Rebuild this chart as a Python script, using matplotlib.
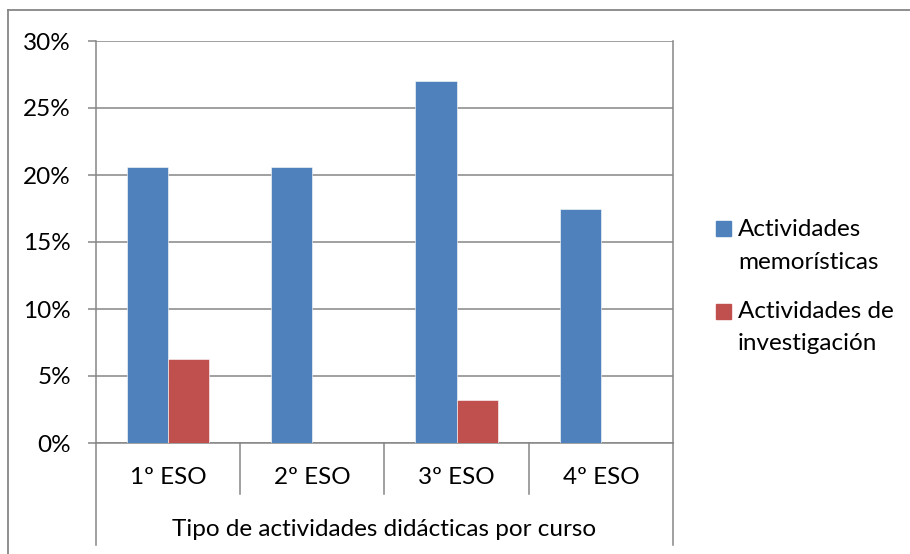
import matplotlib
matplotlib.use("Agg")
import matplotlib.pyplot as plt
from matplotlib.patches import Rectangle
from matplotlib.lines import Line2D
import numpy as np

categories = ["1º ESO", "2º ESO", "3º ESO", "4º ESO"]
series_names = ["Actividades\nmemorísticas", "Actividades de\ninvestigación"]
memoristicas = [20.6, 20.6, 27.0, 17.5]
investigacion = [6.3, 0.0, 3.2, 0.0]
yticks = [0, 5, 10, 15, 20, 25, 30]
ytick_labels = ["0%", "5%", "10%", "15%", "20%", "25%", "30%"]
xlabel = "Tipo de actividades didácticas por curso"
colors = ["#4F81BD", "#C0504D"]
grid_col = "#868686"
FS = 17.5

plt.rcParams['font.family'] = ['Lato', 'DejaVu Sans']
W, H = 910, 554
fig = plt.figure(figsize=(W / 100, H / 100), dpi=100)
ax = fig.add_axes([96 / W, 1 - 443 / H, (673 - 96) / W, (443 - 41) / H])

x = np.arange(len(categories))
bw = 1 / 3.5
ax.bar(x - bw / 2, memoristicas, bw, color=colors[0], zorder=3, edgecolor="white", linewidth=0.4)
ax.bar(x + bw / 2, investigacion, bw, color=colors[1], zorder=3, edgecolor="white", linewidth=0.4)

ax.set_xlim(-0.5, len(categories) - 0.5)
ax.set_ylim(0, 30)
ax.set_yticks(yticks)
ax.set_yticklabels(ytick_labels, fontsize=FS)
ax.tick_params(axis='y', length=6, width=1.1, color=grid_col, pad=12)
ax.set_xticks([])
ax.yaxis.grid(True, color=grid_col, linewidth=1.1, zorder=0)
ax.spines["top"].set_visible(False)
for s in ["left", "bottom", "right"]:
    ax.spines[s].set_color(grid_col)
    ax.spines[s].set_linewidth(1.1)

# category separators below axis
trans = ax.get_xaxis_transform()
px = 1 / (443 - 41)
bounds = np.arange(len(categories) + 1) - 0.5
for i, b in enumerate(bounds):
    y_end = -(545 - 443) * px if i in (0, len(bounds) - 1) else -(494 - 443) * px
    ax.add_line(Line2D([b, b], [0, y_end], transform=trans, color=grid_col,
                       linewidth=1.1, clip_on=False))
for xi, c in zip(x, categories):
    ax.text(xi, -(478 - 443) * px, c, transform=trans, ha="center", va="center", fontsize=FS)
ax.text(0.5, -(529 - 443) * px, xlabel, transform=ax.transAxes, ha="center", va="center", fontsize=FS)

# outer border
fig.add_artist(Line2D([8 / W, 8 / W], [0, 1 - 10 / H], transform=fig.transFigure, color=grid_col, linewidth=1.3))
fig.add_artist(Line2D([8 / W, 1], [1 - 10 / H, 1 - 10 / H], transform=fig.transFigure, color=grid_col, linewidth=1.3))

# legend
leg_y = [(229, 262), (312, 344)]
for name, col, (y1, y2) in zip(series_names, colors, leg_y):
    fig.add_artist(Rectangle((716 / W, 1 - (y1 + 7) / H), 15 / W, 15 / H,
                             transform=fig.transFigure, color=col))
    l1, l2 = name.split("\n")
    fig.text(738 / W, 1 - y1 / H, l1, ha="left", va="center", fontsize=FS)
    fig.text(738 / W, 1 - y2 / H, l2, ha="left", va="center", fontsize=FS)

fig.savefig("out.png", dpi=100)
